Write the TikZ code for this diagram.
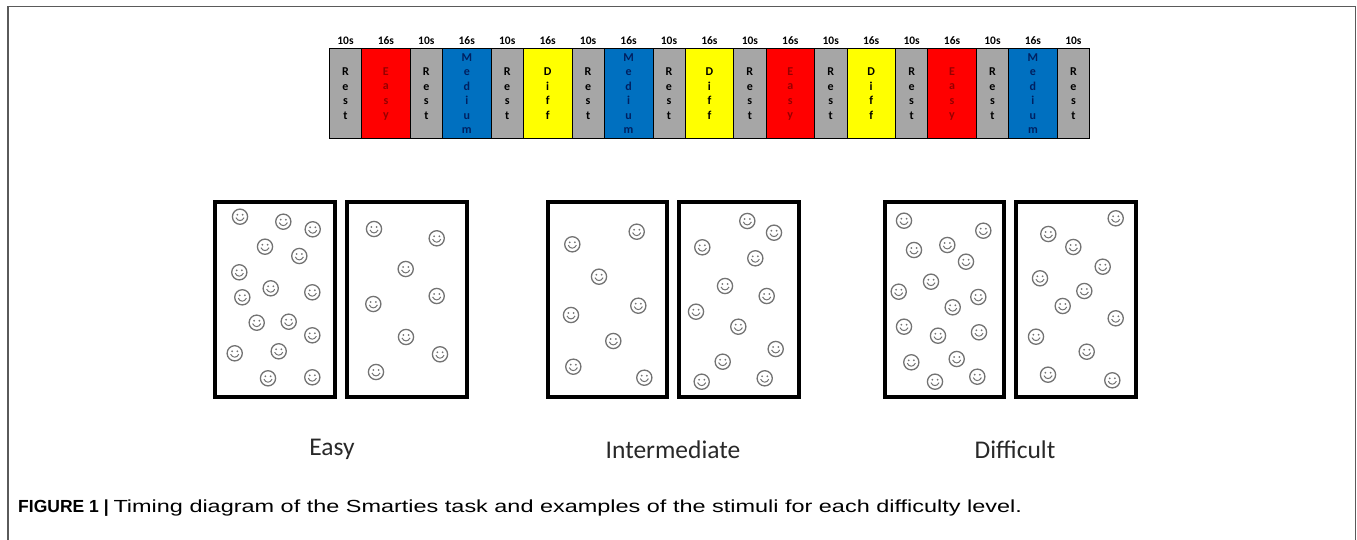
\documentclass[tikz,border=0pt]{standalone}
\usepackage{fontspec}
\setmainfont{Carlito}
\newfontfamily\capfont{Liberation Sans}
\definecolor{restgray}{RGB}{166,166,166}
\definecolor{easyred}{RGB}{255,0,0}
\definecolor{medblue}{RGB}{0,112,192}
\definecolor{diffyellow}{RGB}{255,255,0}
\definecolor{easytxt}{RGB}{150,0,0}
\definecolor{medtxt}{RGB}{0,32,96}
\definecolor{smilecol}{RGB}{115,115,115}
\definecolor{framecol}{RGB}{90,90,90}
\definecolor{lvltxt}{RGB}{40,40,40}
\def\tR{R\\e\\s\\t}
\def\tE{E\\a\\s\\y}
\def\tM{M\\e\\d\\i\\u\\m}
\def\tD{D\\i\\f\\f}
\tikzset{
  blk/.style={draw=black, line width=0.7pt, anchor=north west, inner sep=0pt, minimum height=89.4pt},
  lett/.style={font=\fontsize{12}{14.5}\selectfont\bfseries, align=center, inner sep=0pt},
  hdr/.style={font=\fontsize{11.5}{12}\selectfont\bfseries, inner sep=0pt},
  panel/.style={draw=black, line width=4pt, inner sep=0pt, minimum width=119.4pt, minimum height=195.6pt},
  lvl/.style={font=\fontsize{25.5}{28}\selectfont, text=lvltxt, inner sep=0pt},
  smiley/.pic={
    \draw[smilecol, line width=1.3pt] (0,0) circle (7.6);
    \fill[smilecol] (-2.6,-2) circle (1) (2.6,-2) circle (1);
    \draw[smilecol, line width=1pt] (-4.1,0.9) .. controls (-2.1,4.9) and (2.1,4.9) .. (4.1,0.9);
  }
}
\begin{document}
\begin{tikzpicture}[x=1pt,y=-1pt]
\useasboundingbox (0,0) rectangle (1357,540);
% frame
\draw[framecol, line width=1.5pt] (8,540) -- (8,6.5) -- (1355.7,6.5) -- (1355.7,540);
% timing bar
\foreach \k/\fc/\tc/\bw/\tx/\hd in {
 0/restgray/black/32.23/\tR/10s,
 1/easyred/easytxt/48.65/\tE/16s,
 2/restgray/black/32.23/\tR/10s,
 3/medblue/medtxt/48.65/\tM/16s,
 4/restgray/black/32.23/\tR/10s,
 5/diffyellow/black/48.65/\tD/16s,
 6/restgray/black/32.23/\tR/10s,
 7/medblue/medtxt/48.65/\tM/16s,
 8/restgray/black/32.23/\tR/10s,
 9/diffyellow/black/48.65/\tD/16s,
 10/restgray/black/32.23/\tR/10s,
 11/easyred/easytxt/48.65/\tE/16s,
 12/restgray/black/32.23/\tR/10s,
 13/diffyellow/black/48.65/\tD/16s,
 14/restgray/black/32.23/\tR/10s,
 15/easyred/easytxt/48.65/\tE/16s,
 16/restgray/black/32.23/\tR/10s,
 17/medblue/medtxt/48.65/\tM/16s,
 18/restgray/black/32.23/\tR/10s}{
  \pgfmathsetmacro\nr{int((\k+1)/2)}
  \pgfmathsetmacro\nt{int(\k/2)}
  \pgfmathsetmacro\xs{329+\nr*32.23+\nt*48.65}
  \node[blk, fill=\fc, minimum width=\bw pt] (b\k) at (\xs,48.3) {};
  \node[lett, text=\tc] (t\k) at ([yshift=-0.5pt]b\k.center) {\tx};
  \node[hdr] (h\k) at (b\k.north |- 0,41) {\hd};
}
% panels
\node[panel] (e1) at (275,299.5) {};
\node[panel] (e2) at (406.9,299.5) {};
\node[panel] (i1) at (607.4,299.5) {};
\node[panel] (i2) at (739,299.5) {};
\node[panel] (d1) at (944.4,299.5) {};
\node[panel] (d2) at (1076,299.5) {};
% smileys easy
\foreach \p in {(240,216.7),(283.3,221.7),(312.7,229.3),(265,246.7),(299.3,256),(239.3,272.3),(270.7,288.3),(312.3,292.3),(242.3,297.3),(256.7,322.7),(288.7,321.7),(312.3,335.3),(234.7,353.3),(278.7,351.3),(268,378.3),(312.3,377.3),
 (374,229),(436.7,238.3),(405.7,269),(436.7,296),(373.3,304),(406,337),(440,354.3),(376,372)}
  \pic at \p {smiley};
% smileys intermediate
\foreach \p in {(636.7,231.7),(572.3,244.3),(599,276.7),(638.3,305.7),(571,315),(613.3,341),(573.3,366.7),(644.3,377.7),
 (747.3,221),(774,232.7),(702.3,247.3),(755.3,258.3),(725,286),(766.7,296),(696,311.7),(738.3,326.7),(775.7,349),(722.7,361.7),(701.7,381.7),(764.7,378.3)}
  \pic at \p {smiley};
% smileys difficult
\foreach \p in {(904,220.7),(983.3,230.7),(914,250),(947.3,245),(966,261.7),(931,281.7),(898.7,291.7),(978.3,297),(952.7,307.3),(904,326.7),(938,335.7),(979,332.3),(911.3,362.3),(956.7,359),(977.3,376.7),(935,381.7),
 (1115.7,218.3),(1048.3,234),(1073.3,247),(1102.7,266.7),(1040,278.3),(1084.3,291),(1062.7,306),(1115.7,318.3),(1036,336.7),(1086.7,351.7),(1048,374.7),(1112.3,380.3)}
  \pic at \p {smiley};
% level labels
\node[lvl] (le) at (332,449) {Easy};
\node[lvl] (li) at (673,450) {Intermediate};
\node[lvl] (ld) at (1015,450) {Difficult};
% caption
\node[anchor=base west, inner sep=0pt, font=\capfont\fontsize{17.5}{20}\selectfont] (cap) at (18,512.5) {\textbf{FIGURE 1 |} \scalebox{1.34}[1]{Timing diagram of the Smarties task and examples of the stimuli for each difficulty level.}};
\end{tikzpicture}
\end{document}
